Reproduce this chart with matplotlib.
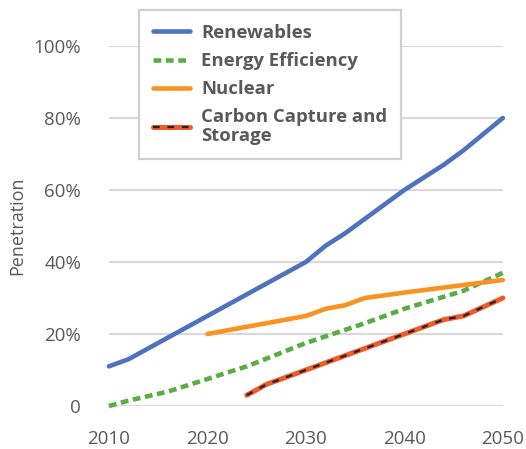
import matplotlib
matplotlib.use("Agg")
import matplotlib.pyplot as plt
from matplotlib.lines import Line2D
from matplotlib.ticker import FixedLocator
from matplotlib.legend_handler import HandlerLine2D

ren_years = [2010, 2012, 2016, 2020, 2026, 2030, 2032, 2034, 2036, 2040, 2044, 2046, 2050]
ren_vals  = [11, 13, 19, 25, 34, 40, 44.5, 48, 52, 60, 67, 71, 80]
eff_years = [2010, 2012, 2016, 2020, 2024, 2030, 2036, 2040, 2046, 2050]
eff_vals  = [0, 1.5, 4, 7.5, 11, 17.5, 23, 27, 32, 37]
nuc_years = [2020, 2026, 2030, 2032, 2034, 2036, 2040, 2050]
nuc_vals  = [20, 23, 25, 27, 28, 30, 31.5, 35]
ccs_years = [2024, 2026, 2030, 2036, 2040, 2044, 2046, 2050]
ccs_vals  = [3, 6, 10, 16, 20, 24, 25, 30]

x_ticks = [2010, 2020, 2030, 2040, 2050]
y_ticks = [0, 20, 40, 60, 80, 100]
y_labels = ["0", "20%", "40%", "60%", "80%", "100%"]

plt.rcParams['font.family'] = ['Open Sans', 'DejaVu Sans']
gray = '#595959'

fig = plt.figure(figsize=(5.26, 4.49), dpi=100)
ax = fig.add_axes([0.207, 0.0958, 0.749, 0.8018])
ax.set_xlim(2010, 2050)
ax.set_ylim(0, 100)

blue = '#4f72be'
green = '#5aac44'
orange = '#f7931e'
red = '#f05a28'
dotted = (0, (1.7, 1.0))
ccs_dash = (0, (3, 3.5))

ax.plot(ren_years, ren_vals, color=blue, lw=3.3, solid_capstyle='round', clip_on=False, zorder=3)
ax.plot(eff_years, eff_vals, color=green, lw=3.3, linestyle=dotted, dash_capstyle='butt', clip_on=False, zorder=3)
ax.plot(nuc_years, nuc_vals, color=orange, lw=3.3, solid_capstyle='round', clip_on=False, zorder=3)
ax.plot(ccs_years, ccs_vals, color=red, lw=3.6, solid_capstyle='round', clip_on=False, zorder=3)
ax.plot(ccs_years, ccs_vals, color='#222222', lw=1.6, linestyle=ccs_dash, clip_on=False, zorder=4)

ax.yaxis.set_major_locator(FixedLocator(y_ticks))
ax.set_yticklabels(y_labels)
ax.set_xticks(x_ticks)
ax.grid(axis='y', color='#d9d9d9', lw=1.6)
ax.set_axisbelow(True)
for s in ax.spines.values():
    s.set_visible(False)
ax.tick_params(length=0, labelsize=13.5, colors=gray)
ax.tick_params(axis='y', pad=20)
ax.tick_params(axis='x', pad=17)
ax.set_ylabel('Penetration', fontsize=13, color=gray, labelpad=5)


class HandlerCCS(HandlerLine2D):
    def create_artists(self, legend, orig_handle, xdescent, ydescent, width, height, fontsize, trans):
        arts = super().create_artists(legend, orig_handle, xdescent, ydescent, width, height, fontsize, trans)
        base = arts[0]
        over = Line2D(base.get_xdata(), base.get_ydata(), color='#222222', lw=1.6,
                      linestyle=ccs_dash, transform=trans)
        return list(arts) + [over]


handles = [
    Line2D([], [], color=blue, lw=3.3, solid_capstyle='round'),
    Line2D([], [], color=green, lw=3.3, linestyle=dotted),
    Line2D([], [], color=orange, lw=3.3, solid_capstyle='round'),
    Line2D([], [], color=red, lw=3.6, solid_capstyle='round'),
]
labels = ['Renewables', 'Energy Efficiency', 'Nuclear', 'Carbon Capture and\nStorage']

leg = fig.legend(handles, labels, loc='upper left', bbox_to_anchor=(139/526, 1 - 10/449),
                 frameon=True, fancybox=False, edgecolor='#d0d0d0', framealpha=1,
                 prop={'weight': 'bold', 'size': 13.3}, handlelength=2.0, handletextpad=0.6,
                 labelspacing=0.55, borderpad=0.75, borderaxespad=0,
                 handler_map={handles[3]: HandlerCCS()})
leg.get_frame().set_linewidth(1.6)
for t in leg.get_texts():
    t.set_color(gray)
    t.set_linespacing(1.05)

fig.savefig('out.png', dpi=100)
